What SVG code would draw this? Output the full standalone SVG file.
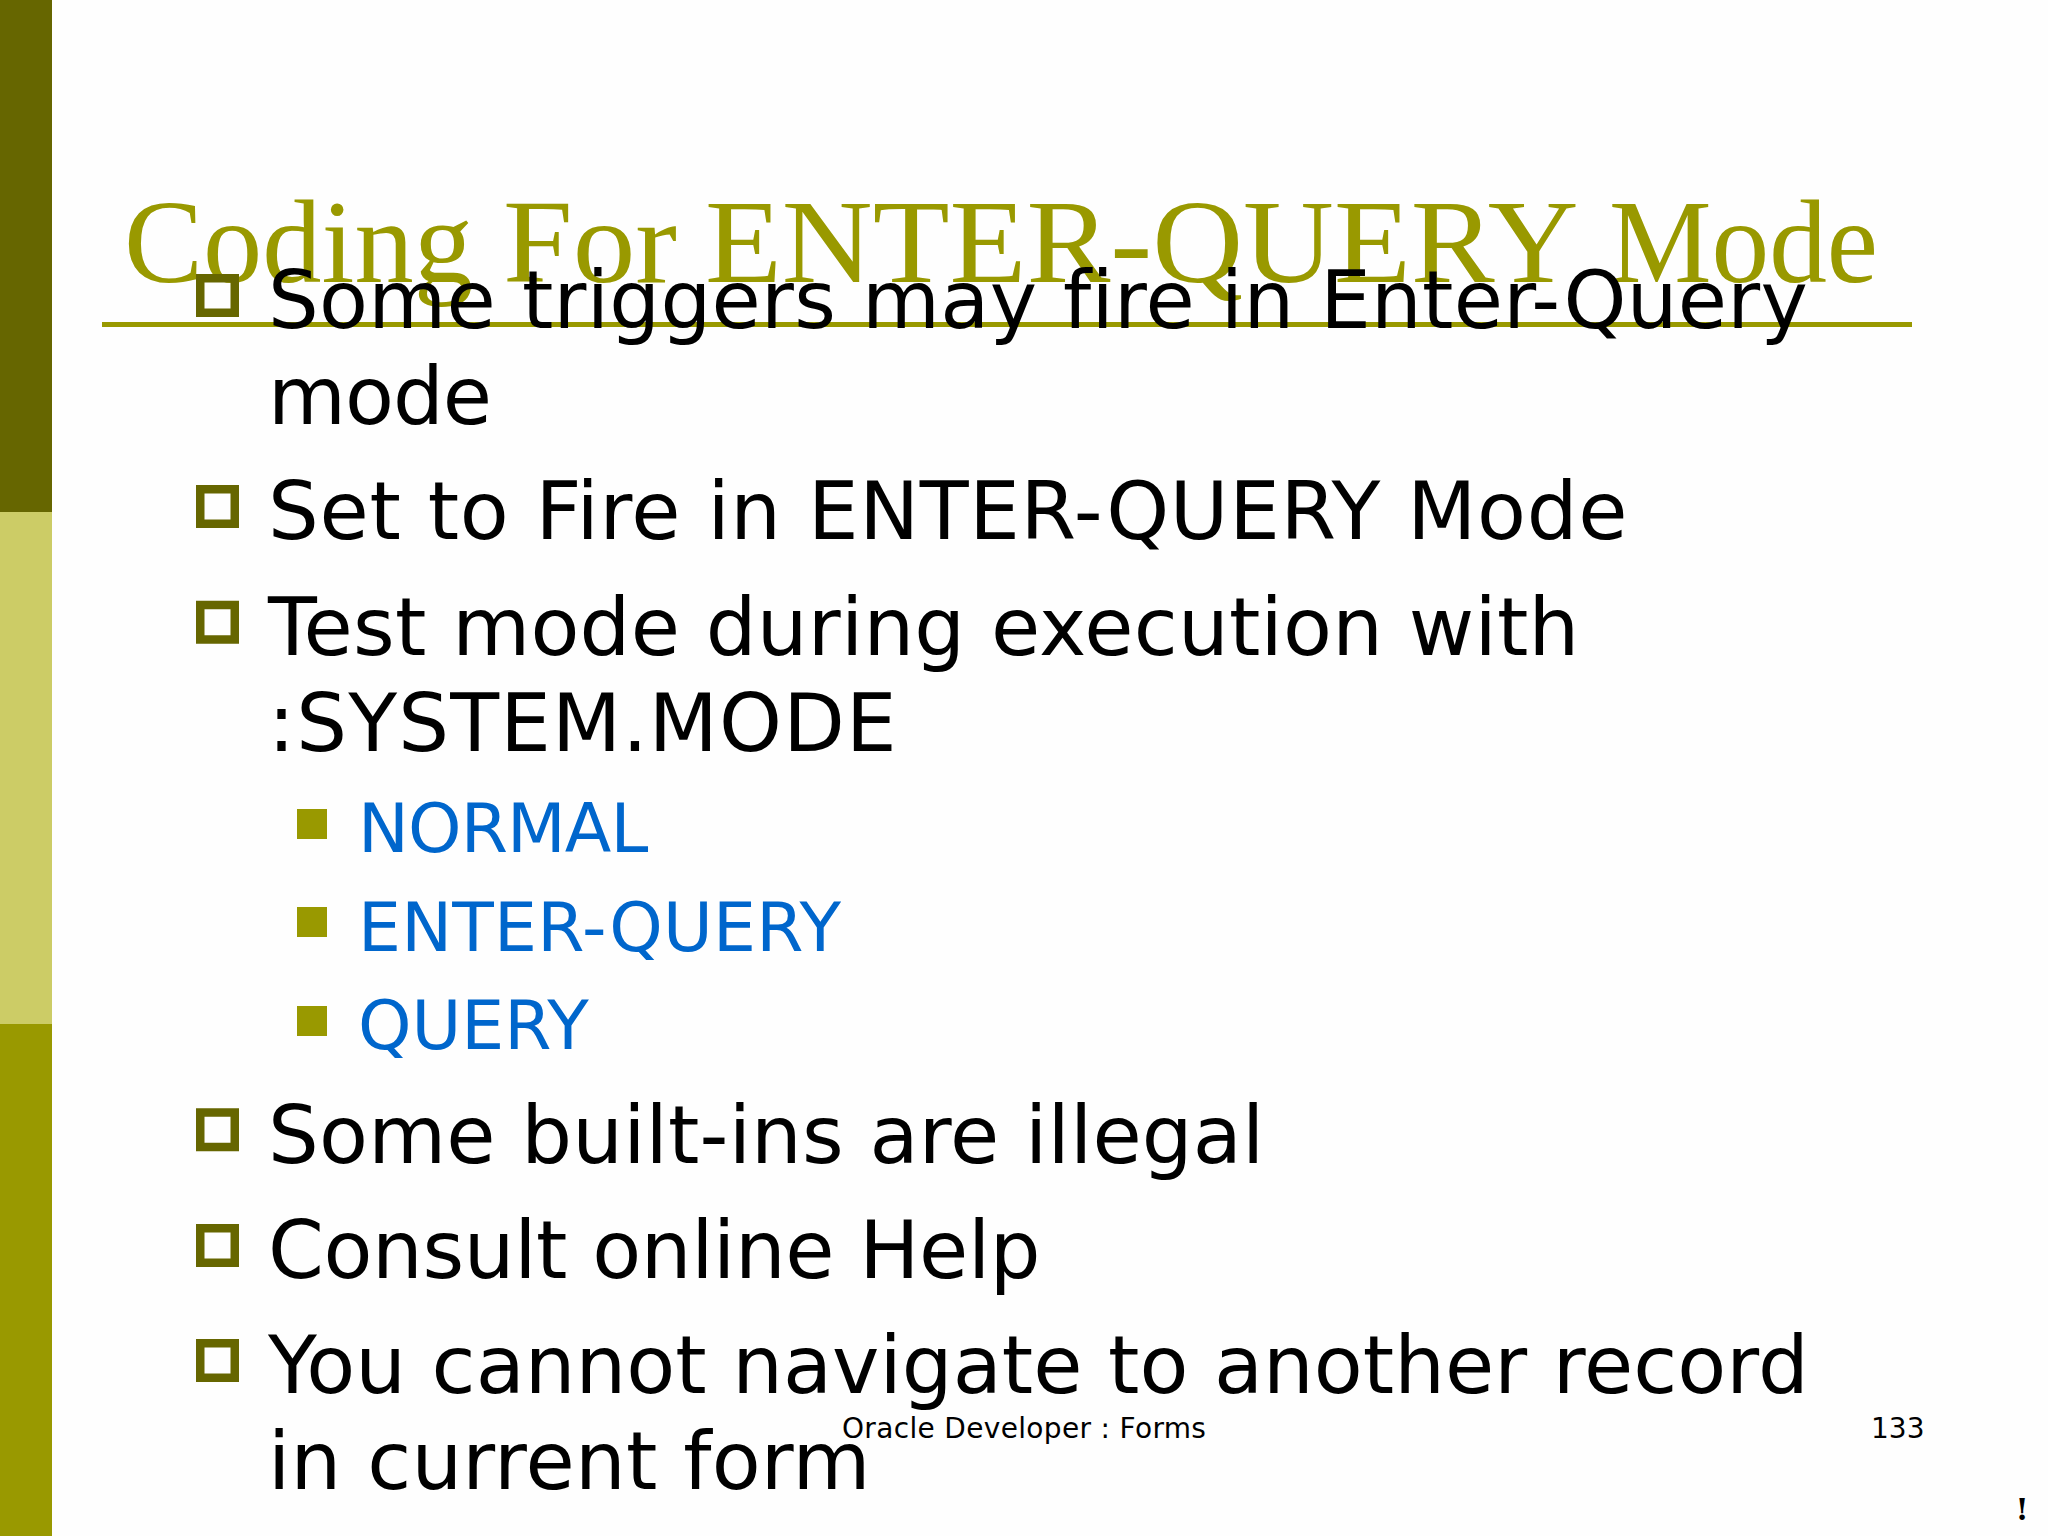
<svg xmlns="http://www.w3.org/2000/svg" width="2048" height="1536" viewBox="0 0 2048 1536">
<style>
text{font-variant-ligatures:none}
.b{font-family:"DejaVu Sans",sans-serif;font-size:80px;fill:#000}
.s{font-family:"DejaVu Sans",sans-serif;font-size:68px;fill:#0066cc}
.f{font-family:"DejaVu Sans",sans-serif;font-size:28px;fill:#000}
.h{fill:none;stroke:#666600;stroke-width:8.500}
.q{fill:#999900}
</style>
<rect width="2048" height="1536" fill="#fefefe"/>
<rect x="0" y="0" width="52" height="512" fill="#666600"/>
<rect x="0" y="512" width="52" height="512" fill="#cccc66"/>
<rect x="0" y="1024" width="52" height="512" fill="#999900"/>
<text id="title" y="282" font-family="Liberation Serif, serif" font-size="118" fill="#999900"><tspan x="124" textLength="349" lengthAdjust="spacingAndGlyphs">Coding</tspan> <tspan x="503" textLength="174" lengthAdjust="spacingAndGlyphs">For</tspan> <tspan x="705" textLength="869" lengthAdjust="spacingAndGlyphs">ENTER-QUERY</tspan> <tspan x="1609" textLength="269" lengthAdjust="spacingAndGlyphs">Mode</tspan></text>
<rect x="102" y="322" width="1810" height="5" fill="#999900"/>
<g id="bullets">
<rect class="h" x="200.250" y="278.250" width="34.500" height="34.500"/>
<rect class="h" x="200.250" y="489.250" width="34.500" height="34.500"/>
<rect class="h" x="200.250" y="605" width="34.500" height="34.500"/>
<rect class="h" x="200.250" y="1112.500" width="34.500" height="34.500"/>
<rect class="h" x="200.250" y="1228.250" width="34.500" height="34.500"/>
<rect class="h" x="200.250" y="1343.250" width="34.500" height="34.500"/>
<rect class="q" x="297" y="809" width="30" height="30"/>
<rect class="q" x="297" y="907" width="30" height="30"/>
<rect class="q" x="297" y="1006" width="30" height="30"/>
</g>
<g id="body">
<text class="b" x="268" y="328" letter-spacing="0.320">Some triggers may fire in Enter-Query</text>
<text class="b" x="268" y="424" letter-spacing="-1">mode</text>
<text class="b" x="268" y="539" letter-spacing="0.720">Set to Fire in ENTER-QUERY Mode</text>
<text class="b" x="268" y="655" letter-spacing="0.250">Test mode during execution with</text>
<text class="b" x="268" y="751" letter-spacing="1.200">:SYSTEM.MODE</text>
<text class="s" x="358" y="852" letter-spacing="-0.870">NORMAL</text>
<text class="s" x="358" y="951" letter-spacing="0.240">ENTER-QUERY</text>
<text class="s" x="358" y="1049">QUERY</text>
<text class="b" x="268" y="1163" letter-spacing="0.200">Some built-ins are illegal</text>
<text class="b" x="268" y="1278" letter-spacing="-0.340">Consult online Help</text>
<text class="b" x="268" y="1393" letter-spacing="0.070">You cannot navigate to another record</text>
<text class="b" x="268" y="1489" letter-spacing="0.260">in current form</text>
</g>
<g id="footer">
<text class="f" x="842" y="1438" letter-spacing="0.330">Oracle Developer : Forms</text>
<text class="f" x="1871" y="1438">133</text>
<text x="2022" y="1520" text-anchor="middle" font-family="DejaVu Serif, serif" font-weight="bold" font-size="30" fill="#000">!</text>
</g>
</svg>
